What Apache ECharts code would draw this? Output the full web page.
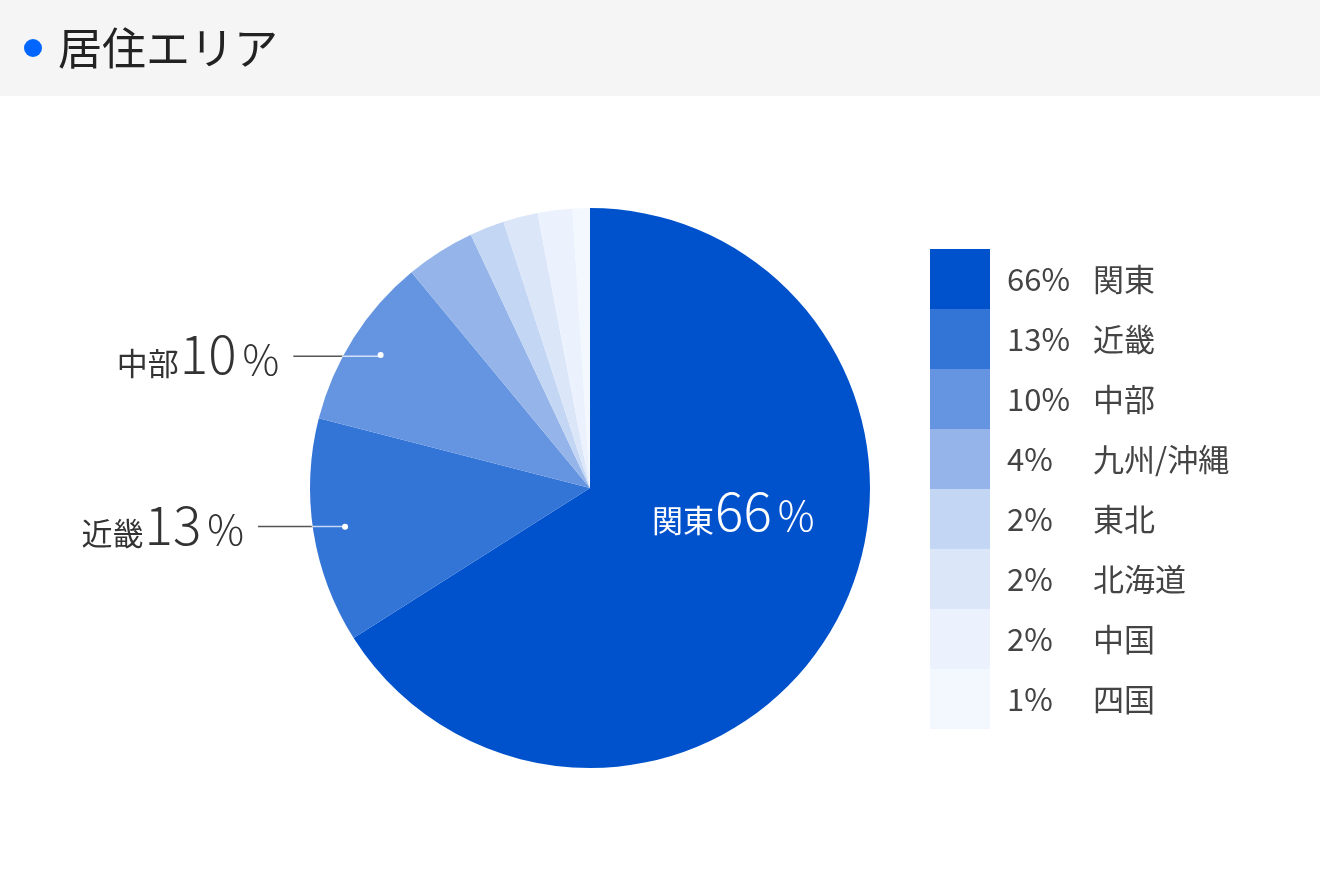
<!DOCTYPE html>
<html>
<head>
<meta charset="utf-8">
<script src="https://cdn.jsdelivr.net/npm/echarts@6/dist/echarts.min.js"></script>
<style>
html,body{margin:0;padding:0;background:#fff;}
#chart{width:1320px;height:880px;}
</style>
</head>
<body>
<div id="chart"></div>
<script>
const titleText = '居住エリア';
const categories = ['関東', '近畿', '中部', '九州/沖縄', '東北', '北海道', '中国', '四国'];
const values = [66, 13, 10, 4, 2, 2, 2, 1];
const colors = ['#0052CC', '#3374D7', '#6595E0', '#95B5EA', '#C3D6F4', '#DCE6F9', '#EBF2FD', '#F3F7FE'];
const calloutNames = ['中部', '近畿'];
const insideName = '関東';

const FONT = '"Noto Sans CJK JP", "Noto Sans", sans-serif';
const CENTER = [590, 488];
const R = 280;
const RDOT = 245;

const total = values.reduce((a, b) => a + b, 0);
function innerLen(i) {
  let before = 0;
  for (let k = 0; k < i; k++) before += values[k];
  const th = (before + values[i] / 2) / total * Math.PI * 2;
  const x = RDOT * Math.sin(th);
  const y = -RDOT * Math.cos(th);
  const xe = -Math.sqrt(R * R - y * y);
  return Math.max(0, x - xe);
}

const valueByName = {};
categories.forEach((n, i) => valueByName[n] = values[i]);

function richSet(color) {
  return {
    n: { fontSize: 31, color: color, fontFamily: FONT, verticalAlign: 'bottom', padding: [0, 0, 2, 0] },
    v: { fontSize: 53, color: color, fontFamily: FONT, fontWeight: 300, verticalAlign: 'bottom', padding: [0, 0, 0, 1] },
    s: { fontSize: 41, color: color, fontFamily: FONT, fontWeight: 300, verticalAlign: 'bottom', padding: [0, 0, 1, 6] }
  };
}

const transparent = 'rgba(0,0,0,0)';

const mainSeries = {
  type: 'pie', name: 'main', z: 2,
  center: CENTER, radius: R, startAngle: 90, clockwise: true,
  avoidLabelOverlap: false, silent: true,
  emphasis: { disabled: true, scale: false },
  labelLine: { show: false },
  labelLayout: function (p) {
    return p.dataIndex === 0 ? { dx: 18, dy: -46 } : {};
  },
  data: categories.map((n, i) => ({
    name: n, value: values[i],
    itemStyle: { color: colors[i] },
    label: n === insideName ? {
      show: true, position: 'inside',
      formatter: p => `{n|${p.name}}{v|${p.value}}{s|%}`,
      rich: richSet('#fff')
    } : { show: false }
  }))
};

const grayLineSeries = {
  type: 'pie', name: 'callout', z: 1,
  center: CENTER, radius: RDOT, startAngle: 90, clockwise: true,
  avoidLabelOverlap: false, silent: true,
  emphasis: { disabled: true, scale: false },
  itemStyle: { color: transparent },
  data: categories.map((n, i) => {
    const on = calloutNames.includes(n);
    return {
      name: n, value: values[i],
      label: on ? {
        show: true, position: 'outside', distanceToLabelLine: 14,
        padding: [0, 0, 4, 0],
        formatter: p => `{n|${p.name}}{v|${p.value}}{s|%}`,
        rich: richSet('#333')
      } : { show: false },
      labelLine: on ? {
        show: true, length: 1, length2: 89,
        lineStyle: { color: '#555', width: 1.5 }
      } : { show: false }
    };
  })
};

const whiteLineSeries = {
  type: 'pie', name: 'calloutInner', z: 3,
  center: CENTER, radius: RDOT, startAngle: 90, clockwise: true,
  avoidLabelOverlap: false, silent: true,
  emphasis: { disabled: true, scale: false },
  itemStyle: { color: transparent },
  data: categories.map((n, i) => {
    const on = calloutNames.includes(n);
    return {
      name: n, value: values[i],
      label: on ? {
        show: true, position: 'outside', distanceToLabelLine: 0,
        formatter: '.', color: transparent, fontSize: 2
      } : { show: false },
      labelLine: on ? {
        show: true, length: 1, length2: innerLen(i),
        lineStyle: { color: 'rgba(255,255,255,0.72)', width: 1.5 }
      } : { show: false }
    };
  })
};

const dotSeries = {
  type: 'pie', name: 'calloutDot', z: 4,
  center: CENTER, radius: [RDOT - 4, RDOT + 4], startAngle: 90, clockwise: true,
  avoidLabelOverlap: false, silent: true,
  emphasis: { disabled: true, scale: false },
  itemStyle: { color: transparent },
  labelLine: { show: false },
  data: categories.map((n, i) => ({
    name: n, value: values[i],
    label: calloutNames.includes(n) ? {
      show: true, position: 'inside', formatter: '{d|}',
      rich: { d: { width: 6, height: 6, borderRadius: 3, backgroundColor: '#fff' } }
    } : { show: false }
  }))
};

const chart = echarts.init(document.getElementById('chart'));
chart.setOption({
  animation: false,
  backgroundColor: '#fff',
  graphic: [
    { type: 'rect', left: 0, top: 0, z: -10, shape: { width: 1320, height: 96 }, style: { fill: '#F5F5F5' } },
    { type: 'circle', shape: { cx: 33, cy: 48, r: 9 }, style: { fill: '#0066FF' } },
    { type: 'text', x: 58, y: 48, style: { text: titleText, font: '44px ' + FONT, fill: '#222', verticalAlign: 'middle' } }
  ],
  legend: {
    orient: 'vertical', left: 930, top: 249, padding: 0,
    itemWidth: 60, itemHeight: 60, itemGap: 0,
    icon: 'rect', selectedMode: false,
    data: categories,
    formatter: name => `{p|${valueByName[name]}%}{n|${name}}`,
    textStyle: {
      fontFamily: FONT, fontSize: 31, color: '#444',
      rich: {
        p: { width: 86, padding: [0, 0, 0, 12], fontSize: 31, color: '#444', fontFamily: FONT },
        n: { fontSize: 31, color: '#444', fontFamily: FONT }
      }
    }
  },
  series: [mainSeries, grayLineSeries, whiteLineSeries, dotSeries]
});
</script>
</body>
</html>
